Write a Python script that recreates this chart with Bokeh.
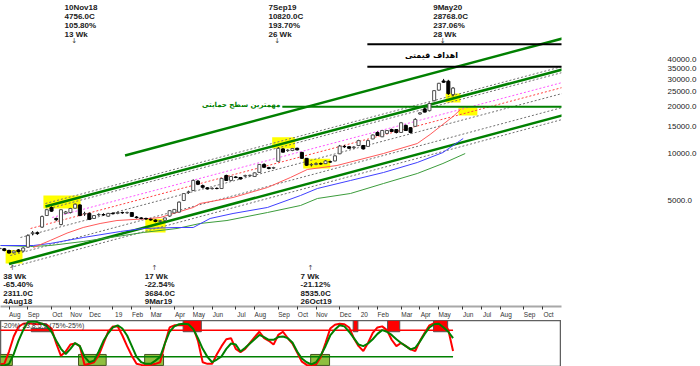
import pandas as pd
from bokeh.plotting import figure
from bokeh.models import ColumnDataSource, FixedTicker, Label, Range1d
from bokeh.layouts import column
from bokeh.embed import file_html
from bokeh.resources import INLINE

# ------------------------------------------------------------------ data
first_bar = "2018-07-21"   # weekly bars (Saturday dated)

opens = [2480, 2460, 2400, 2320, 2420, 2380, 2520, 3080, 3120, 3390,
         4020, 4520, 3850, 3520, 4150, 4200, 4480, 4700, 4120, 4150,
         3850, 4070, 4080, 3980, 4150, 4150, 4200, 4190, 4200, 3930,
         3880, 3850, 3800, 3760, 3690, 3750, 3990, 4180, 4230, 5020,
         5650, 5820, 6680, 6250, 6050, 5980, 6000, 5990, 7260, 6750,
         7100, 7050, 7200, 7250, 7150, 7600, 8550, 8150, 8100, 8950,
         10750, 10500, 10500, 10850, 10200, 9350, 8500, 8550, 8650, 8650,
         8900, 9000, 10000, 11150, 11100, 10950, 11300, 11300, 11150, 12450,
         13700, 12850, 13500, 14300, 14300, 13700, 15200, 14700, 15000, 18000,
         19400, 18900, 21900, 25600, 29300, 29200, 24000]
highs = [2520, 2490, 2430, 2400, 2450, 2520, 3050, 3200, 3180, 4020,
         4420, 4600, 3900, 4420, 4300, 4500, 4800, 4750, 4250, 4200,
         4050, 4150, 4160, 4180, 4230, 4250, 4260, 4260, 4230, 3990,
         3930, 3900, 3850, 3800, 3760, 3900, 4350, 4420, 4950, 5600,
         5800, 6850, 6800, 6350, 6100, 6100, 6100, 7000, 7350, 7200,
         7200, 7100, 7350, 7350, 7600, 8600, 8700, 8250, 8250, 11000,
         10900, 10700, 10900, 10950, 10300, 9400, 8700, 8800, 8800, 9100,
         9050, 9800, 11400, 11400, 11200, 11200, 12300, 11400, 12300, 13300,
         13900, 14200, 14200, 14500, 14400, 16000, 15400, 14800, 16900, 18500,
         19800, 21300, 25600, 28500, 30200, 29800, 26800]
lows = [2430, 2370, 2290, 2300, 2330, 2360, 2500, 3000, 3020, 3350,
        4000, 4250, 3700, 3480, 4100, 4150, 4450, 3980, 4000, 3760,
        3820, 4000, 4010, 3950, 4080, 4100, 4120, 4120, 3940, 3850,
        3800, 3780, 3720, 3640, 3650, 3720, 3950, 4150, 4200, 4980,
        5550, 5800, 6300, 6000, 5900, 5900, 5920, 5950, 6700, 6700,
        6980, 6850, 7100, 7150, 7100, 7550, 8100, 7950, 8000, 8900,
        10200, 10300, 10400, 10500, 9300, 8350, 8300, 8450, 8500, 8600,
        8750, 8950, 9950, 10900, 10750, 10800, 11200, 10650, 11100, 12400,
        13000, 12800, 13400, 13800, 13500, 13600, 14000, 13500, 14900, 17800,
        18400, 18700, 21700, 25400, 28500, 23800, 23300]
closes = [2460, 2400, 2311, 2380, 2360, 2490, 2990, 3120, 3080, 3960,
          4380, 4290, 3780, 4380, 4240, 4460, 4756, 4020, 4140, 3800,
          4020, 4080, 4060, 4150, 4130, 4200, 4190, 4200, 3970, 3900,
          3850, 3820, 3770, 3684, 3720, 3880, 4320, 4400, 4900, 5560,
          5700, 6750, 6380, 6100, 5950, 6000, 5990, 6950, 6750, 7150,
          7050, 6900, 7250, 7280, 7550, 8550, 8200, 8050, 8150, 10820,
          10250, 10550, 10800, 10600, 9350, 8450, 8535, 8650, 8600, 9000,
          8850, 9700, 11200, 11100, 10850, 11050, 12150, 10750, 12150, 13200,
          13100, 14100, 14100, 13900, 13700, 15800, 14100, 13700, 16600, 18300,
          18500, 21000, 25400, 28300, 28768, 24300, 26366]

stoch_k = [11, 12, 35, 63, 81, 87, 88, 87, 86, 87,
           85, 78, 50, 27, 35, 48, 50, 45, 10, 12,
           15, 28, 50, 72, 82, 82, 65, 45, 27, 12,
           10, 9, 10, 12, 15, 50, 80, 84, 84, 84,
           84, 80, 55, 15, 12, 12, 30, 45, 58, 60,
           40, 34, 40, 51, 62, 72, 60, 55, 48, 66,
           72, 60, 50, 33, 16, 10, 9, 11, 25, 51,
           78, 85, 87, 86, 80, 60, 45, 36, 51, 70,
           80, 82, 75, 57, 45, 51, 45, 39, 36, 55,
           70, 84, 88, 91, 90, 75, 36]
stoch_d = [9, 9, 12, 30, 55, 75, 90, 91, 90, 87,
           82, 72, 55, 40, 30, 40, 51, 45, 25, 15,
           18, 35, 55, 69, 80, 84, 78, 65, 45, 25,
           15, 12, 12, 18, 25, 50, 72, 82, 86, 87,
           86, 77, 60, 40, 25, 15, 20, 26, 40, 50,
           48, 35, 42, 50, 58, 66, 62, 57, 57, 62,
           63, 60, 52, 35, 22, 15, 11, 15, 28, 45,
           65, 76, 84, 82, 72, 60, 48, 45, 50, 58,
           68, 75, 72, 66, 58, 51, 45, 39, 42, 54,
           68, 80, 86, 87, 80, 72, 60]
stoch_levels = [75, 25]

# moving averages
ma_red_dates = ["2018-09-09", "2018-10-04", "2018-10-29", "2018-11-22", "2018-12-17",
                "2019-01-11", "2019-03-01", "2019-03-16", "2019-05-04", "2019-05-14",
                "2019-07-02", "2019-08-22", "2019-09-25", "2019-10-20", "2019-12-03",
                "2020-02-10", "2020-03-31", "2020-04-19", "2020-05-04", "2020-05-23",
                "2020-06-03"]
ma_red_vals = [2508, 2781, 3102, 3370, 3574, 3736, 3849, 3905, 4528, 4802,
               5246, 6081, 7048, 7932, 8414, 10045, 11640, 13300, 14960, 17340, 19230]
ma_blue_dates = ["2018-07-22", "2018-09-09", "2018-10-04", "2018-11-22", "2019-01-16",
                 "2019-02-19", "2019-04-10", "2019-05-04", "2019-05-29", "2019-07-02",
                 "2019-08-22", "2019-10-10", "2019-11-04", "2019-12-23", "2020-02-10",
                 "2020-03-31", "2020-05-08", "2020-06-07"]
ma_blue_vals = [2583, 2583, 2661, 2907, 3176, 3321, 3370, 3370, 3849, 4143,
                4528, 5404, 5993, 6743, 7589, 8796, 10190, 12530]
ma_green_dates = ["2018-07-22", "2018-09-05", "2018-10-04", "2018-11-22", "2019-01-01",
                  "2019-02-19", "2019-04-10", "2019-05-14", "2019-06-23", "2019-08-22",
                  "2019-10-10", "2019-11-04", "2019-12-23", "2020-02-10", "2020-03-31",
                  "2020-05-08", "2020-06-10"]
ma_green_vals = [2583, 2545, 2583, 2741, 2907, 3130, 3321, 3574, 3736, 4204,
                 4663, 5170, 5566, 6451, 7477, 8667, 10040]

# trend channel lines (start date/price -> end date/price)
tl_start = ["2019-01-23", "2018-09-27", "2018-08-04", "2018-09-27", "2018-09-27",
            "2018-10-07", "2018-09-05", "2018-08-21", "2018-08-06", "2018-08-06"]
tl_end = ["2020-11-01"] * 10
tl_p0 = [9757, 4595, 1968, 4802, 4395, 3905, 3321, 2907, 2228, 1867]
tl_p1 = [54840, 34700, 17610, 36270, 33200, 28650, 26610, 24360, 19810, 16600]
tl_style = [("#008000", 2.5, "solid"), ("#008000", 2.5, "solid"), ("#008000", 2.5, "solid"),
            ("#707070", 1, "2 2"), ("#707070", 1, "2 2"), ("#ff55ff", 1, "2 2"),
            ("#ff4040", 1, "2 2"), ("#707070", 1, "2 2"), ("#707070", 1, "2 2"),
            ("#707070", 1, "2 2")]

# horizontal target / support levels
levels = [50395.5, 36172.0, 20000.1]
level_start = ["2020-01-17", "2020-01-17", "2019-09-13"]
level_end = ["2020-11-01"] * 3
level_text = ["50395.5", "36172.0", "20000.1"]
level_color = ["#000000", "#000000", "#008000"]

# yellow highlights
hl_left = ["2018-07-30", "2018-09-24", "2019-02-22", "2019-08-29", "2019-10-14", "2020-05-12", "2020-05-31"]
hl_right = ["2018-08-24", "2018-11-18", "2019-03-24", "2019-10-02", "2019-11-23", "2020-06-03", "2020-06-28"]
hl_low = [1980, 4460, 3128, 10830, 8050, 21300, 17610]
hl_high = [2420, 5405, 3830, 12760, 9290, 24340, 19800]

# stochastic signal boxes
rb_left = ["2018-09-06", "2019-04-19", "2019-12-27", "2020-02-16", "2020-04-24"]
rb_right = ["2018-10-07", "2019-05-16", "2020-01-03", "2020-03-05", "2020-05-15"]
rb_low = [72, 72, 72, 72, 72]
rb_high = [78, 93, 93, 93, 93]
gb_left = ["2018-07-22", "2018-11-15", "2019-02-21", "2019-10-25"]
gb_right = ["2018-08-09", "2018-12-26", "2019-03-21", "2019-11-22"]
gb_low = [9, 9, 9, 9]
gb_high = [29.5, 29.5, 29.5, 29.5]

# zig-zag pivot annotations
top_dates = ["2018-11-10", "2019-09-07", "2020-05-09"]
top_texts = [["10Nov18", "4756.0C", "105.80%", "13 Wk"],
             ["7Sep19", "10820.0C", "193.70%", "26 Wk"],
             ["9May20", "28768.0C", "237.06%", "28 Wk"]]
bot_dates = ["2018-08-04", "2019-03-09", "2019-10-26"]
bot_texts = [["38 Wk", "-65.40%", "2311.0C", "4Aug18"],
             ["17 Wk", "-22.54%", "3684.0C", "9Mar19"],
             ["7 Wk", "-21.12%", "8535.0C", "26Oct19"]]

month_labels = ["Aug", "Sep", "Oct", "Nov", "Dec", "19", "Feb", "Mar", "Apr", "May", "Jun",
                "Jul", "Aug", "Sep", "Oct", "Nov", "Dec", "20", "Feb", "Mar", "Apr", "May",
                "Jun", "Jul", "Aug", "Sep", "Oct"]
price_ticks = [5000, 10000, 15000, 20000, 25000, 30000, 35000, 40000]
last_price = 26366

support_text = "مهمترین سطح حمایتی"
support_anchor = ("2019-09-10", 20000.1)
target_text = "اهداف قیمتی"
target_anchor = ("2020-04-21", 42660)
stoch_title = "-20%) 13,8,5,5 (75%-25%)"

# ------------------------------------------------------------------ layout
FW = 561
FH = 306
FH2 = 46
PX_WEEK = 4.724
FONT = "Liberation Sans"


def ms(d):
    return pd.Timestamp(d).value / 1e6


dates = [pd.Timestamp(first_bar) + pd.Timedelta(weeks=i) for i in range(len(opens))]
x_start = pd.Timestamp("2018-08-04") - pd.Timedelta(days=8.5 * 7 / PX_WEEK)
x_end = x_start + pd.Timedelta(days=FW / PX_WEEK * 7)
xr = Range1d(start=ms(x_start), end=ms(x_end))
ymin = 10 ** (4 + (153.3 - FH) / 156)
ymax = 10 ** (4 + 153.3 / 156)

p = figure(frame_width=FW, frame_height=FH, x_range=xr, y_range=Range1d(ymin, ymax),
           x_axis_type="datetime", y_axis_type="log", y_axis_location="right",
           output_backend="svg", toolbar_location=None,
           min_border_left=0, min_border_top=0, min_border_bottom=0, min_border_right=0)
p.outline_line_color = None
p.grid.visible = False
p.background_fill_color = "white"

# x axis (month strip)
first_sats = []
for i in range(len(month_labels)):
    m0 = pd.Timestamp("2018-08-01") + pd.DateOffset(months=i)
    first_sats.append(m0 + pd.Timedelta(days=(5 - m0.weekday()) % 7))
tick_ms = [ms(d) for d in first_sats]
lab_ms = [ms(d + pd.Timedelta(days=8.5)) for d in first_sats]
xa = p.xaxis[0]
xa.ticker = FixedTicker(ticks=lab_ms, minor_ticks=tick_ms)
xa.major_label_overrides = {k: v for k, v in zip(lab_ms, month_labels)}
xa.major_tick_line_color = None
xa.major_tick_out = 0
xa.major_tick_in = 0
xa.minor_tick_line_color = "#333333"
xa.minor_tick_out = 3
xa.minor_tick_in = 0
xa.axis_line_color = "#a8a8a8"
xa.axis_line_width = 2
xa.major_label_text_font_size = "6.5px"
xa.major_label_text_font = FONT
xa.major_label_text_color = "#333333"
xa.major_label_standoff = 1

ya = p.yaxis[0]
ya.ticker = FixedTicker(ticks=price_ticks)
ya.major_label_overrides = {t: f"{t:.1f}" for t in price_ticks}
ya.major_tick_line_color = None
ya.minor_tick_line_color = None
ya.axis_line_color = None
ya.major_tick_out = 0
ya.major_tick_in = 0
ya.major_label_standoff = 106
ya.major_label_text_font_size = "8px"
ya.major_label_text_font = FONT
ya.major_label_text_color = "#222222"

# highlights
p.quad(left=pd.to_datetime(hl_left), right=pd.to_datetime(hl_right), bottom=hl_low, top=hl_high,
       fill_color="#ffff00", line_color=None)

# channel lines
for s, e, a, b, (c, w, d) in zip(tl_start, tl_end, tl_p0, tl_p1, tl_style):
    p.line([pd.Timestamp(s), pd.Timestamp(e)], [a, b], line_color=c, line_width=w, line_dash=d)

# moving averages
p.line(pd.to_datetime(ma_green_dates), ma_green_vals, line_color="#3c9c3c", line_width=1)
p.line(pd.to_datetime(ma_blue_dates), ma_blue_vals, line_color="#4040ff", line_width=1)
p.line(pd.to_datetime(ma_red_dates), ma_red_vals, line_color="#ff5a5a", line_width=1)

# levels
for lv, s, e, c in zip(levels, level_start, level_end, level_color):
    p.line([pd.Timestamp(s), pd.Timestamp(e)], [lv, lv], line_color=c, line_width=2)
for lv, t, c in zip(levels, level_text, level_color):
    p.add_layout(Label(x=FW + 6, x_units="screen", y=lv, text=t, text_baseline="middle",
                       text_font=FONT, text_font_size="8.5px", text_color=c))

# candles
up = [c >= o for o, c in zip(opens, closes)]
src = ColumnDataSource(dict(
    date=dates, high=highs, low=lows,
    top=[max(o, c) for o, c in zip(opens, closes)],
    bottom=[min(o, c) for o, c in zip(opens, closes)],
    fill=["white" if u else "black" for u in up],
    line=["#505050" if u else "black" for u in up]))
p.segment(x0="date", y0="low", x1="date", y1="high", source=src, line_color="black", line_width=1)
p.vbar(x="date", width=4.5 * 86400000, top="top", bottom="bottom", source=src,
       fill_color="fill", line_color="line", line_width=1)

# texts
p.add_layout(Label(x=ms(support_anchor[0]), y=support_anchor[1], text=support_text,
                   text_align="right", text_baseline="middle", y_offset=2,
                   text_font="DejaVu Sans", text_font_style="bold", text_font_size="7px",
                   text_color="#008000"))
p.add_layout(Label(x=ms(target_anchor[0]), y=target_anchor[1], text=target_text,
                   text_align="center", text_baseline="middle",
                   text_font="DejaVu Sans", text_font_style="bold", text_font_size="8px",
                   text_color="#000000"))
p.add_layout(Label(x=FW + 104, x_units="screen", y=last_price, text=f"{last_price:.1f}",
                   text_baseline="middle", text_font=FONT, text_font_size="8px",
                   text_color="#222222", background_fill_color="#ffff00"))

top_x_off = [-10.6, -9.8, -10.4]
bot_x_off = [-5.8, -10.7, -10.8]
bot_arrow_off = [3.5, -1, -1]
for d, lines, xo in zip(top_dates, top_texts, top_x_off):
    for k, t in enumerate(lines):
        p.add_layout(Label(x=ms(d), y=FH - (7.3 + 8.8 * k), y_units="screen", x_offset=xo,
                           text=t, text_baseline="middle", text_font=FONT,
                           text_font_style="bold", text_font_size="8px", text_color="#202020"))
    p.add_layout(Label(x=ms(d), y=FH - 40, y_units="screen", x_offset=-1, text="↓",
                       text_align="center", text_baseline="middle", text_font="DejaVu Sans",
                       text_font_size="7px", text_color="#404040"))
for d, lines, xo, ao in zip(bot_dates, bot_texts, bot_x_off, bot_arrow_off):
    for k, t in enumerate(lines):
        p.add_layout(Label(x=ms(d), y=FH - (275.5 + 8.5 * k), y_units="screen", x_offset=xo,
                           text=t, text_baseline="middle", text_font=FONT,
                           text_font_style="bold", text_font_size="8px", text_color="#202020"))
    p.add_layout(Label(x=ms(d), y=FH - 267, y_units="screen", x_offset=ao, text="↑",
                       text_align="center", text_baseline="middle", text_font="DejaVu Sans",
                       text_font_size="7px", text_color="#404040"))

# ------------------------------------------------------------------ stochastic panel
p2 = figure(frame_width=FW, frame_height=FH2, x_range=xr, y_range=Range1d(7, 93),
            x_axis_location=None, y_axis_location=None,
            output_backend="svg", toolbar_location=None,
            min_border_left=0, min_border_top=0, min_border_bottom=1, min_border_right=0)
p2.grid.visible = False
p2.outline_line_color = "#606060"
p2.outline_line_width = 1.5

p2.quad(left=pd.to_datetime(rb_left), right=pd.to_datetime(rb_right), bottom=rb_low, top=rb_high,
        fill_color="#ff0000", line_color="#555555", line_width=1)
p2.quad(left=pd.to_datetime(gb_left), right=pd.to_datetime(gb_right), bottom=gb_low, top=gb_high,
        fill_color="#8fbf3f", line_color="#445522", line_width=1)
p2.line([dates[0], dates[-1]], [stoch_levels[0]] * 2, line_color="#ff0000", line_width=1.5)
p2.line([dates[0], dates[-1]], [stoch_levels[1]] * 2, line_color="#008000", line_width=1.5)
p2.line(dates, stoch_k, line_color="#ff0000", line_width=2)
p2.line(dates, stoch_d, line_color="#008000", line_width=2)
p2.add_layout(Label(x=1, y=FH2 - 1, x_units="screen", y_units="screen", text=stoch_title,
                    text_baseline="top", text_font=FONT, text_font_size="7px",
                    text_color="#333333"))

layout = column(p, p2, spacing=0)
open("out.html", "w").write(file_html(layout, INLINE))
